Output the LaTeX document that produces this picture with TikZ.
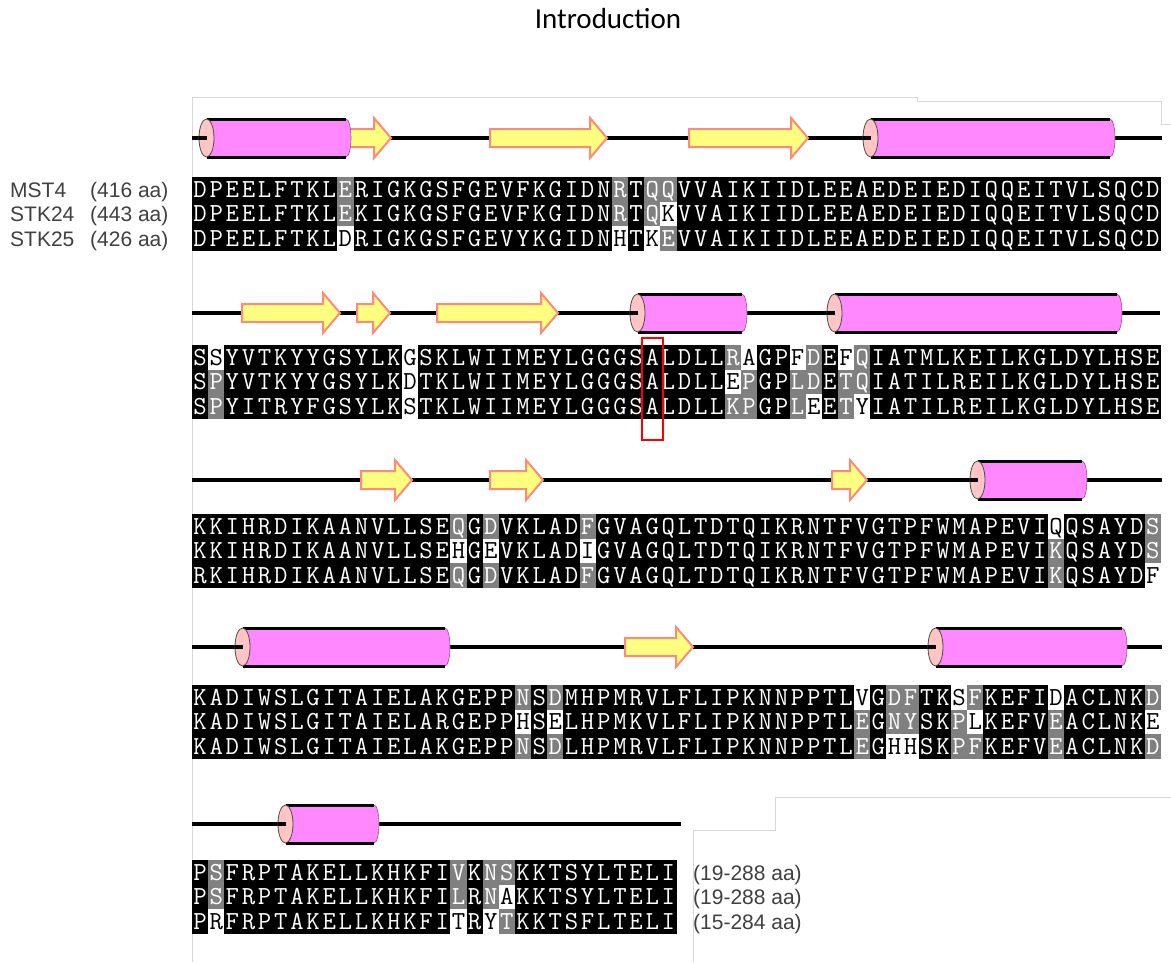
\documentclass[tikz,border=0pt]{standalone}
\usepackage{fontspec}
\usepackage{tikz}
\usetikzlibrary{positioning,calc}
\newfontfamily\titlefont{Carlito}
\newfontfamily\labelfont{Liberation Sans}
\definecolor{alnGray}{HTML}{808080}
\definecolor{alnHelix}{HTML}{FF88FF}
\definecolor{alnCap}{HTML}{FFC4C4}
\definecolor{alnStrand}{HTML}{FFFF80}
\definecolor{alnStrandEdge}{HTML}{FF8A7A}
\definecolor{alnFrame}{HTML}{D8D8D8}
\definecolor{alnLabel}{HTML}{404040}
\tikzset{
  res/.style={font=\fontsize{26}{26}\selectfont\ttfamily, inner sep=0pt, anchor=base},
  seqlabel/.style={font=\fontsize{21}{21}\selectfont\labelfont, text=alnLabel, inner sep=0pt, anchor=base west},
  titletext/.style={font=\fontsize{29}{29}\selectfont\titlefont, inner sep=0pt},
  trackline/.style={line width=3.2pt},
  strand/.style={fill=alnStrand, draw=alnStrandEdge, line width=2pt},
  helixbody/.style={fill=alnHelix},
  helixend/.style={draw=alnHelix!60!black, line width=0.6pt},
  helixedge/.style={line width=3pt},
  helixcap/.style={fill=alnCap, draw=black!70, line width=0.8pt},
  frameline/.style={draw=alnFrame, line width=1pt},
  redbox/.style={draw=red, line width=2pt},
  band/.style={fill=black},
  graycell/.style={fill=alnGray},
  whitecell/.style={fill=white}
}
\def\cellw{16.15}
\def\rowh{24.5}
\newcount\rescol
% one alignment row: name, top, residues, shading (b/g/w)
\newcommand\seqrow[4]{%
  \global\rescol=0
  \def\rowtop{#2}\def\rowname{#1}%
  \resloop#3\relax#4\relax}
\def\resloop#1#2\relax#3#4\relax{%
  \global\advance\rescol by 1
  \pgfmathsetmacro\resx{192+\cellw*(\the\rescol-1)}%
  \def\rescolor{white}%
  \if#3g\fill[graycell] (\resx,\rowtop) rectangle ++(\cellw,\rowh);\fi
  \if#3w\fill[whitecell] (\resx,\rowtop) rectangle ++(\cellw,\rowh);\def\rescolor{black}\fi
  \edef\resname{\rowname-\the\rescol}%
  \node[res, text=\rescolor] (\resname) at (\resx+\cellw/2,\rowtop+\rowh/2+8) {#1};%
  \ifx\relax#2\relax\else\resloop#2\relax#4\relax\fi}
% cylinder: cap left, body end, track y
\newcommand\drawhelix[3]{%
  \fill[helixbody] (#1+7.5,#3-19) -- (#2,#3-19) arc[start angle=-90,end angle=90,x radius=5,y radius=19] -- (#1+7.5,#3+19) -- cycle;
  \draw[helixend] (#2,#3-19) arc[start angle=-90,end angle=90,x radius=5,y radius=19];
  \draw[helixedge] (#1+7.5,#3-19) -- (#2,#3-19) (#1+7.5,#3+19) -- (#2,#3+19);
  \draw[helixcap] (#1+7.5,#3) ellipse[x radius=7.5,y radius=19];
  \draw[trackline] (#1,#3) -- (#1+7.5,#3);}
% arrow: tail, tip, track y
\newcommand\drawstrand[3]{%
  \draw[strand] (#1,#3-9) -- (#2-17,#3-9) -- (#2-17,#3-20) -- (#2,#3) -- (#2-17,#3+20) -- (#2-17,#3+9) -- (#1,#3+9) -- cycle;}
\begin{document}
\begin{tikzpicture}[x=1pt,y=-1pt]
  \useasboundingbox[fill=white] (0,0) rectangle (1171,962);
  \node[titletext] (title) at (608,19) {Introduction};
  \draw[frameline] (192,962) -- (192,97) -- (917,97) -- (917,101) -- (1161,101) -- (1161,124) -- (1171,124);
  \draw[frameline] (693,962) -- (693,830) -- (775,830) -- (775,797) -- (1171,797);

  % block 1
  \draw[trackline] (192,138) -- (1162,138);
  \drawstrand{346}{391}{138}
  \drawstrand{490}{607}{138}
  \drawstrand{689}{808}{138}
  \drawhelix{199}{346}{138}
  \drawhelix{863}{1110}{138}
  \fill[band] (192,177) rectangle ++(60*\cellw,3*\rowh);
  \seqrow{b1r1}{177}{DPEELFTKLERIGKGSFGEVFKGIDNRTQQVVAIKIIDLEEAEDEIEDIQQEITVLSQCD}{bbbbbbbbbgbbbbbbbbbbbbbbbbgbggbbbbbbbbbbbbbbbbbbbbbbbbbbbbbb}
  \seqrow{b1r2}{177+\rowh}{DPEELFTKLEKIGKGSFGEVFKGIDNRTQKVVAIKIIDLEEAEDEIEDIQQEITVLSQCD}{bbbbbbbbbgbbbbbbbbbbbbbbbbgbgwbbbbbbbbbbbbbbbbbbbbbbbbbbbbbb}
  \seqrow{b1r3}{177+2*\rowh}{DPEELFTKLDRIGKGSFGEVYKGIDNHTKEVVAIKIIDLEEAEDEIEDIQQEITVLSQCD}{bbbbbbbbbwbbbbbbbbbbbbbbbbwbwgbbbbbbbbbbbbbbbbbbbbbbbbbbbbbb}
  \node[seqlabel] (mst4) at (10,197) {MST4};
  \node[seqlabel] (mst4len) at (90,197) {(416 aa)};
  \node[seqlabel] (stk24) at (10,221.5) {STK24};
  \node[seqlabel] (stk24len) at (90,221.5) {(443 aa)};
  \node[seqlabel] (stk25) at (10,246) {STK25};
  \node[seqlabel] (stk25len) at (90,246) {(426 aa)};

  % block 2
  \draw[trackline] (192,313) -- (1160,313);
  \drawstrand{242}{340}{313}
  \drawstrand{357}{390}{313}
  \drawstrand{437}{558}{313}
  \drawhelix{630}{742}{313}
  \drawhelix{827}{1117}{313}
  \fill[band] (192,345) rectangle ++(60*\cellw,3*\rowh);
  \seqrow{b2r1}{345}{SSYVTKYYGSYLKGSKLWIIMEYLGGGSALDLLRAGPFDEFQIATMLKEILKGLDYLHSE}{bwbbbbbbbbbbbwbbbbbbbbbbbbbbbbbbbgwbbwgbwgbbbbbbbbbbbbbbbbbb}
  \seqrow{b2r2}{345+\rowh}{SPYVTKYYGSYLKDTKLWIIMEYLGGGSALDLLEPGPLDETQIATILREILKGLDYLHSE}{bgbbbbbbbbbbbwbbbbbbbbbbbbbbbbbbbwgbbggbggbbbbbbbbbbbbbbbbbb}
  \seqrow{b2r3}{345+2*\rowh}{SPYITRYFGSYLKSTKLWIIMEYLGGGSALDLLKPGPLEETYIATILREILKGLDYLHSE}{bgbbbbbbbbbbbwbbbbbbbbbbbbbbbbbbbggbbgwbgwbbbbbbbbbbbbbbbbbb}
  \draw[redbox] (642,338) rectangle (663,440);

  % block 3
  \draw[trackline] (192,480) -- (1162,480);
  \drawstrand{361}{412}{480}
  \drawstrand{490}{543}{480}
  \drawstrand{832}{867}{480}
  \drawhelix{970}{1082}{480}
  \fill[band] (192,514) rectangle ++(60*\cellw,3*\rowh);
  \seqrow{b3r1}{514}{KKIHRDIKAANVLLSEQGDVKLADFGVAGQLTDTQIKRNTFVGTPFWMAPEVIQQSAYDS}{bbbbbbbbbbbbbbbbgbgbbbbbgbbbbbbbbbbbbbbbbbbbbbbbbbbbbwbbbbbg}
  \seqrow{b3r2}{514+\rowh}{KKIHRDIKAANVLLSEHGEVKLADIGVAGQLTDTQIKRNTFVGTPFWMAPEVIKQSAYDS}{bbbbbbbbbbbbbbbbwbwbbbbbwbbbbbbbbbbbbbbbbbbbbbbbbbbbbgbbbbbg}
  \seqrow{b3r3}{514+2*\rowh}{RKIHRDIKAANVLLSEQGDVKLADFGVAGQLTDTQIKRNTFVGTPFWMAPEVIKQSAYDF}{bbbbbbbbbbbbbbbbgbgbbbbbgbbbbbbbbbbbbbbbbbbbbbbbbbbbbgbbbbbw}

  % block 4
  \draw[trackline] (192,647) -- (1162,647);
  \drawstrand{625}{693}{647}
  \drawhelix{235}{445}{647}
  \drawhelix{928}{1122}{647}
  \fill[band] (192,685) rectangle ++(60*\cellw,3*\rowh);
  \seqrow{b4r1}{685}{KADIWSLGITAIELAKGEPPNSDMHPMRVLFLIPKNNPPTLVGDFTKSFKEFIDACLNKD}{bbbbbbbbbbbbbbbbbbbbgbgbbbbbbbbbbbbbbbbbbwbggbbwgbbbbwbbbbbg}
  \seqrow{b4r2}{685+\rowh}{KADIWSLGITAIELARGEPPHSELHPMKVLFLIPKNNPPTLEGNYSKPLKEFVEACLNKE}{bbbbbbbbbbbbbbbbbbbbwbwbbbbbbbbbbbbbbbbbbgbggbbgwbbbbgbbbbbw}
  \seqrow{b4r3}{685+2*\rowh}{KADIWSLGITAIELAKGEPPNSDLHPMRVLFLIPKNNPPTLEGHHSKPFKEFVEACLNKD}{bbbbbbbbbbbbbbbbbbbbgbgbbbbbbbbbbbbbbbbbbgbwwbbggbbbbgbbbbbg}

  % block 5
  \draw[trackline] (192,824) -- (681,824);
  \drawhelix{278}{374}{824}
  \fill[band] (192,860) rectangle ++(30*\cellw,3*\rowh);
  \seqrow{b5r1}{860}{PSFRPTAKELLKHKFIVKNSKKTSYLTELI}{bgbbbbbbbbbbbbbbgbggbbbbbbbbbb}
  \seqrow{b5r2}{860+\rowh}{PSFRPTAKELLKHKFILRNAKKTSYLTELI}{bgbbbbbbbbbbbbbbgbgwbbbbbbbbbb}
  \seqrow{b5r3}{860+2*\rowh}{PRFRPTAKELLKHKFITRYTKKTSFLTELI}{bwbbbbbbbbbbbbbbwbwgbbbbbbbbbb}
  \node[seqlabel] (mst4end) at (693,880) {(19-288 aa)};
  \node[seqlabel] (stk24end) at (693,904.5) {(19-288 aa)};
  \node[seqlabel] (stk25end) at (693,929) {(15-284 aa)};
\end{tikzpicture}
\end{document}
